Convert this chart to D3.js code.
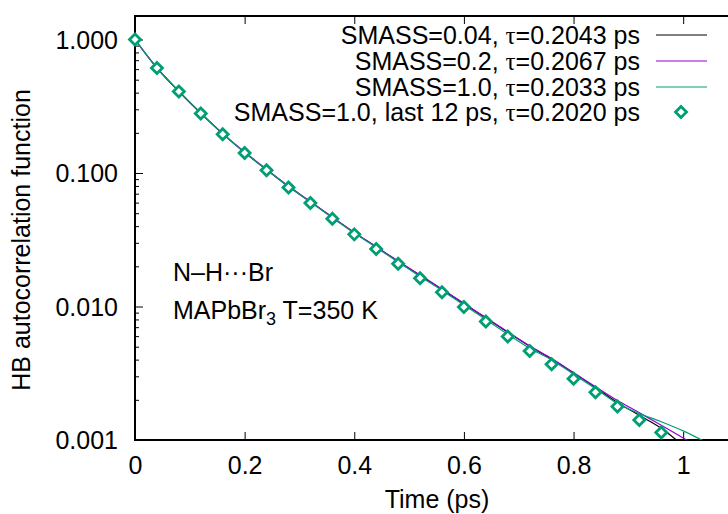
<!DOCTYPE html>
<html>
<head>
<meta charset="utf-8">
<script src="https://cdn.jsdelivr.net/npm/d3@7"></script>
<style>
  html, body { margin: 0; padding: 0; background: #fff; }
  svg { display: block; }
  text { font-family: "Liberation Sans", Arial, Helvetica, sans-serif; fill: #000; }
</style>
</head>
<body>
<svg id="chart" width="728" height="514"></svg>
<script>
// ---- data ----
const lineTimes = [0, 0.04, 0.08, 0.12, 0.16, 0.20, 0.24, 0.28, 0.32, 0.36, 0.40, 0.44, 0.48, 0.52, 0.56, 0.60, 0.64, 0.68, 0.72, 0.76, 0.80, 0.84, 0.88, 0.92, 0.96, 1.00, 1.04];
const smass004 = [1.000, 0.611, 0.408, 0.280, 0.1965, 0.1425, 0.1060, 0.0792, 0.0608, 0.0465, 0.0357, 0.0279, 0.0217, 0.0171, 0.0134, 0.01050, 0.00820, 0.00641, 0.00503, 0.00404, 0.00317, 0.00247, 0.00191, 0.00153, 0.001225, 0.000912, 0.00069];
const smass02  = [1.000, 0.615, 0.411, 0.282, 0.198, 0.1435, 0.1067, 0.0798, 0.0612, 0.0468, 0.0359, 0.0281, 0.0219, 0.0172, 0.0135, 0.01057, 0.00826, 0.00646, 0.00507, 0.00407, 0.00320, 0.00251, 0.00198, 0.00160, 0.00129, 0.001035, 0.00083];
const smass10  = [1.000, 0.614, 0.410, 0.281, 0.197, 0.1425, 0.1060, 0.0792, 0.0606, 0.0463, 0.0355, 0.0277, 0.0215, 0.0168, 0.0132, 0.01025, 0.00798, 0.00620, 0.00487, 0.00398, 0.00311, 0.00243, 0.00188, 0.00158, 0.00137, 0.00117, 0.00097];

const pointTimes = [0, 0.04, 0.08, 0.12, 0.16, 0.20, 0.24, 0.28, 0.32, 0.36, 0.40, 0.44, 0.48, 0.52, 0.56, 0.60, 0.64, 0.68, 0.72, 0.76, 0.80, 0.84, 0.88, 0.92, 0.96];
const last12ps = [1.000, 0.612, 0.408, 0.279, 0.195, 0.141, 0.1047, 0.0780, 0.0596, 0.0454, 0.0347, 0.0270, 0.0209, 0.0163, 0.0128, 0.00993, 0.00771, 0.00596, 0.00465, 0.00369, 0.00288, 0.00228, 0.00178, 0.00141, 0.00114];

const seriesLabels = [["SMASS=0.04, ", "=0.2043 ps"], ["SMASS=0.2, ", "=0.2067 ps"], ["SMASS=1.0, ", "=0.2033 ps"], ["SMASS=1.0, last 12 ps, ", "=0.2020 ps"]];
const seriesColors = ["#000000", "#9400d3", "#009e73", "#009e73"];

const xTicks = [0, 0.2, 0.4, 0.6, 0.8, 1.0];
const yTicks = [1.0, 0.1, 0.01, 0.001];

// ---- layout ----
const svg = d3.select("#chart");
const pL = 135, pR = 738, pT = 16, pB = 440;
const x = d3.scaleLinear().domain([0, 1.1]).range([pL, pR]);
const y = d3.scaleLog().domain([0.001, 1.5]).range([pB, pT]);

svg.append("defs").append("clipPath").attr("id", "clip")
  .append("rect").attr("x", pL).attr("y", pT).attr("width", pR - pL).attr("height", pB - pT);

const FS = 25;

// y axis (major)
const gy = svg.append("g").attr("transform", `translate(${pL},0)`)
  .call(d3.axisLeft(y).tickValues(yTicks).tickFormat(d3.format(".3f")).tickSize(-8).tickPadding(17));
gy.select(".domain").remove();
gy.selectAll("text").style("font-size", FS + "px").attr("font-family", null).attr("dy", "0.35em");
gy.selectAll("line").attr("stroke", "#000").attr("stroke-width", 1);

// y minor ticks
const minors = [];
[0.001, 0.01, 0.1, 1].forEach(d => { for (let k = 2; k <= 9; k++) { const v = d * k; if (v <= 1.5) minors.push(v); } });
const gym = svg.append("g").attr("transform", `translate(${pL},0)`)
  .call(d3.axisLeft(y).tickValues(minors).tickFormat("").tickSize(-4));
gym.select(".domain").remove();
gym.selectAll("line").attr("stroke", "#000").attr("stroke-width", 1);

// x axis bottom
const gx = svg.append("g").attr("transform", `translate(0,${pB})`)
  .call(d3.axisBottom(x).tickValues(xTicks).tickFormat(d3.format("")).tickSize(-8).tickPadding(16));
gx.select(".domain").remove();
gx.selectAll("text").style("font-size", FS + "px").attr("font-family", null);
gx.selectAll("line").attr("stroke", "#000").attr("stroke-width", 1);

// x axis top (mirror ticks)
const gxt = svg.append("g").attr("transform", `translate(0,${pT})`)
  .call(d3.axisTop(x).tickValues(xTicks.slice(1)).tickFormat("").tickSize(-8));
gxt.select(".domain").remove();
gxt.selectAll("line").attr("stroke", "#000").attr("stroke-width", 1);

// frame
svg.append("rect").attr("x", pL).attr("y", pT).attr("width", pR - pL).attr("height", pB - pT)
  .attr("fill", "none").attr("stroke", "#000").attr("stroke-width", 2);

// axis titles
svg.append("text").attr("x", 437).attr("y", 499).attr("dy", "0.35em").attr("text-anchor", "middle")
  .style("font-size", FS + "px").text("Time (ps)");
svg.append("text").attr("transform", "translate(21,240) rotate(-90)").attr("dy", "0.35em").attr("text-anchor", "middle")
  .style("font-size", FS + "px").text("HB autocorrelation function");

// lines
const line = d3.line().x(d => x(d[0])).y(d => y(d[1])).curve(d3.curveMonotoneX);
const plot = svg.append("g").attr("clip-path", "url(#clip)");
[smass004, smass02, smass10].forEach((vals, i) => {
  plot.append("path")
    .datum(lineTimes.map((t, j) => [t, vals[j]]))
    .attr("d", line).attr("fill", "none")
    .attr("stroke", seriesColors[i]).attr("stroke-width", 1.2);
});

// diamonds
const diamond = "M0,-5.5L5.5,0L0,5.5L-5.5,0Z";
svg.selectAll("path.pt").data(pointTimes.map((t, j) => [t, last12ps[j]])).enter()
  .append("path").attr("class", "pt")
  .attr("transform", d => `translate(${x(d[0])},${y(d[1])})`)
  .attr("d", diamond).attr("fill", "#fff").attr("stroke", seriesColors[3]).attr("stroke-width", 2.8);

// legend
const rowY = [35, 61, 87, 112];
seriesLabels.forEach((lab, i) => {
  const t = svg.append("text").attr("x", 640).attr("y", rowY[i]).attr("dy", "0.35em").attr("text-anchor", "end")
    .style("font-size", FS + "px");
  t.append("tspan").text(lab[0]);
  t.append("tspan").style("font-family", "'Liberation Serif', 'DejaVu Serif', serif").text("\u03C4");
  t.append("tspan").text(lab[1]);
  if (i < 3) {
    svg.append("line").attr("x1", 656).attr("x2", 707).attr("y1", rowY[i]).attr("y2", rowY[i])
      .attr("stroke", seriesColors[i]).attr("stroke-width", 1.2);
  } else {
    svg.append("path").attr("transform", `translate(681,${rowY[i]})`).attr("d", diamond)
      .attr("fill", "#fff").attr("stroke", seriesColors[i]).attr("stroke-width", 2.8);
  }
});

// annotations
svg.append("text").attr("x", 173).attr("y", 272).attr("dy", "0.35em").style("font-size", FS + "px")
  .text("N\u2013H\u00B7\u00B7\u00B7Br");
const ann = svg.append("text").attr("x", 173).attr("y", 310).attr("dy", "0.35em").style("font-size", FS + "px");
ann.append("tspan").text("MAPbBr");
ann.append("tspan").attr("dy", "6").style("font-size", "18px").text("3");
ann.append("tspan").attr("dy", "-6").text(" T=350 K");
</script>
</body>
</html>
